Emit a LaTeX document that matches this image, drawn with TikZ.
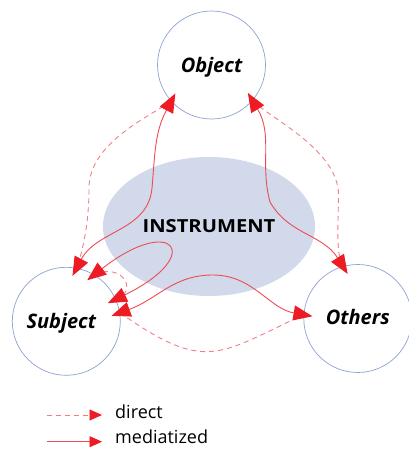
\documentclass[tikz,border=0pt]{standalone}
\usepackage{fontspec}
\setmainfont{Open Sans}
\usetikzlibrary{arrows.meta,shapes.geometric}
\definecolor{arrowred}{RGB}{237,28,36}
\definecolor{linered}{RGB}{238,75,85}
\definecolor{dashred}{RGB}{243,125,135}
\definecolor{ringblue}{RGB}{143,160,212}
\definecolor{instrfill}{RGB}{209,217,234}
\tikzset{
  actor/.style={circle, draw=ringblue, line width=0.7pt, minimum size=108pt, inner sep=0pt,
    text depth=0pt, font=\fontsize{20}{24}\selectfont\bfseries\itshape},
  medline/.style={draw=linered, line width=0.9pt,
    {Triangle[length=19pt,width=15pt,color=arrowred]}-{Triangle[length=19pt,width=15pt,color=arrowred]},
    shorten <=-9pt, shorten >=-9pt},
  dirline/.style={draw=dashred, line width=0.9pt, dash pattern=on 5pt off 4pt},
  legtip/.style={-{Triangle[length=12.5pt,width=11pt,color=arrowred]}, shorten >=13pt},
}

\begin{document}
\begin{tikzpicture}[x=1pt, y=1pt]
	\useasboundingbox (0,0) rectangle (408,450);
	% Nodes and bends:
	\node[ellipse, fill=instrfill, minimum width=212pt, minimum height=139pt, inner sep=0pt,
	  font=\fontsize{18}{20}\selectfont\bfseries] (instr) at (209,223.5) {\scalebox{1.12}[1]{INSTRUMENT}};
	\node[actor] (obj) at (211.5,385) {Object};
	\node[actor] (subj) at (66.3,128.7) {\hspace*{-10pt}Subject};
	\node[actor] (oth) at (357.8,131.5) {\raisebox{4pt}{Others}};
	\coordinate (w1) at (152,262);
	\coordinate (w2) at (270,248);
	\coordinate (w3) at (338.5,255);
	\coordinate (w4) at (89,262);
	\coordinate (w6) at (213,175);
	% Direct links:
	\draw[dirline] (obj.222) .. controls +(215:25) and +(90:45) .. (w4) .. controls +(270:35) and +(70:18) .. (subj.79);
	\draw[dirline] (obj.319) .. controls +(315:25) and +(90:45) .. (w3) .. controls +(270:25) and +(120:15) .. (oth.106);
	\draw[dirline] (subj.9) .. controls +(-35:105) and +(205:95) .. (oth.176);
	\draw[dirline] (subj.59) .. controls +(25:30) and +(20:25) .. (subj.24);
	% Mediatized links:
	\draw[medline] (obj.222) .. controls +(242:35) and +(85:35) .. (w1) .. controls +(265:43) and +(62:43) .. (subj.79);
	\draw[medline] (obj.319) .. controls +(301:40) and +(105:40) .. (w2) .. controls +(300:38) and +(122:38) .. (oth.106);
	\draw[medline] (subj.9) .. controls +(20:40) and +(180:40) .. (w6) .. controls +(0:40) and +(170:35) .. (oth.176);
	\draw[medline] (subj.59) .. controls +(38:100) and +(26:100) .. (subj.24);
	% Legend:
	\node[anchor=base west, inner sep=0pt, font=\fontsize{18}{20}\selectfont] (ldir) at (115,31.7) {direct};
	\node[anchor=base west, inner sep=0pt, font=\fontsize{18}{20}\selectfont] (lmed) at (115,6.7) {mediatized};
	\coordinate (ld) at (46.7,35);
	\coordinate (lm) at (46.7,8.3);
	\draw[dirline, legtip] (ld) -- (ld -| ldir.west);
	\draw[draw=linered, line width=0.9pt, legtip] (lm) -- (lm -| lmed.west);
\end{tikzpicture}
\end{document}
